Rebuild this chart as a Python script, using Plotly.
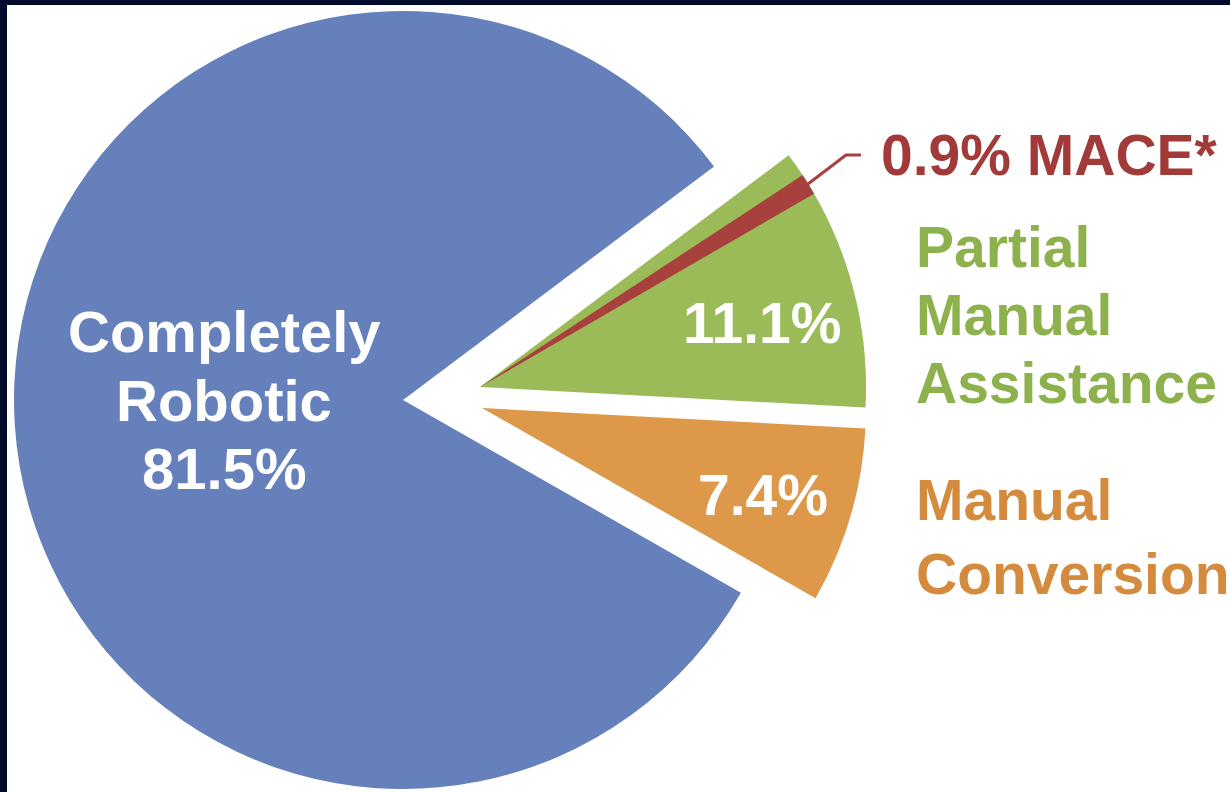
import math
import plotly.graph_objects as go

# ---- data ----
labels = ["Completely Robotic", "Partial Manual Assistance", "Manual Conversion"]
values = [81.5, 11.1, 7.4]
mace_label = "MACE*"
mace_value = 0.9

# ---- styling ----
W, H = 1230, 792
BLUE = "#6580BB"
GREEN = "#9BBB59"
ORANGE = "#DD984A"
RED = "#A8403E"
RED_TXT = "#A23A3A"
GREEN_TXT = "#8DB14C"
ORANGE_TXT = "#D58B3E"
NAVY = "#010C2D"
CLEAR = "rgba(0,0,0,0)"
FONT = "Liberation Sans, Arial, Helvetica, sans-serif"
FS = 57

ROT = 119.7          # start angle of first slice, clockwise from 12 o'clock
MACE_OFFSET = 3.6    # degrees of green shown before the MACE sliver

total = sum(values)


def dom(cx, cy, r):
    return dict(x=[(cx - r) / W, (cx + r) / W], y=[1 - (cy + r) / H, 1 - (cy - r) / H])


def P(x, y):
    return x / W, 1 - y / H


centers = {
    0: (403, 400, 389),
    1: (480, 387, 386),
    2: (482, 408, 384),
}
colors = [BLUE, GREEN, ORANGE]

fig = go.Figure()
for i in range(len(values)):
    cx, cy, r = centers[i]
    cols = [colors[j] if j == i else CLEAR for j in range(len(values))]
    fig.add_trace(go.Pie(
        labels=labels, values=values, sort=False, direction="clockwise",
        rotation=ROT, marker=dict(colors=cols, line=dict(width=0)),
        textinfo="none", hoverinfo="label+percent", domain=dom(cx, cy, r),
        showlegend=False,
    ))

# MACE sliver, inside the pulled-out green slice
green_start = (ROT + 360 * values[0] / total) % 360
mace_rot = green_start + MACE_OFFSET
gcx, gcy, gr = centers[1]
fig.add_trace(go.Pie(
    labels=[mace_label, "other"], values=[mace_value, total - mace_value],
    sort=False, direction="clockwise", rotation=mace_rot,
    marker=dict(colors=[RED, CLEAR], line=dict(width=0)),
    textinfo="none", hoverinfo="label+value", domain=dom(gcx, gcy, gr),
    showlegend=False,
))

# leader line from the MACE sliver to its label
mid = math.radians(mace_rot + 360 * mace_value / total / 2)
tipx = gcx + (gr - 6) * math.sin(mid)
tipy = gcy - (gr - 6) * math.cos(mid)
p0 = P(tipx, tipy)
p1 = P(846, 155)
p2 = P(861, 155)
shapes = [
    dict(type="path", xref="paper", yref="paper",
         path=f"M {p0[0]} {p0[1]} L {p1[0]} {p1[1]} L {p2[0]} {p2[1]}",
         line=dict(color=RED, width=3)),
    # dark frame
    dict(type="rect", xref="paper", yref="paper", x0=0, x1=1, y0=1 - 5 / H, y1=1,
         fillcolor=NAVY, line=dict(width=0), layer="above"),
    dict(type="rect", xref="paper", yref="paper", x0=0, x1=7 / W, y0=0, y1=1,
         fillcolor=NAVY, line=dict(width=0), layer="above"),
]

anns = []


def add_text(text, x, y, color, anchor="center", size=FS):
    px, py = P(x, y)
    anns.append(dict(text=text, x=px, y=py, xref="paper", yref="paper",
                     xanchor=anchor, yanchor="middle", showarrow=False,
                     font=dict(family=FONT, size=size, color=color, weight="bold")))


blue_lines = labels[0].split() + [f"{values[0]}%"]
for line, y in zip(blue_lines, [332, 400, 468]):
    add_text(line, 224, y, "white", size=58)

add_text(f"{values[1]}%", 762, 323, "white")
add_text(f"{values[2]}%", 763, 495, "white")
add_text(f"{mace_value}% {mace_label}", 879, 155, RED_TXT, anchor="left")
for line, y in zip(labels[1].split(), [247, 315, 383]):
    add_text(line, 914, y, GREEN_TXT, anchor="left")
for line, y in zip(labels[2].split(), [500, 574]):
    add_text(line, 914, y, ORANGE_TXT, anchor="left")

fig.update_layout(
    width=W, height=H, margin=dict(l=0, r=0, t=0, b=0),
    paper_bgcolor="white", plot_bgcolor="white",
    shapes=shapes, annotations=anns,
)

fig.write_html("out.html")
